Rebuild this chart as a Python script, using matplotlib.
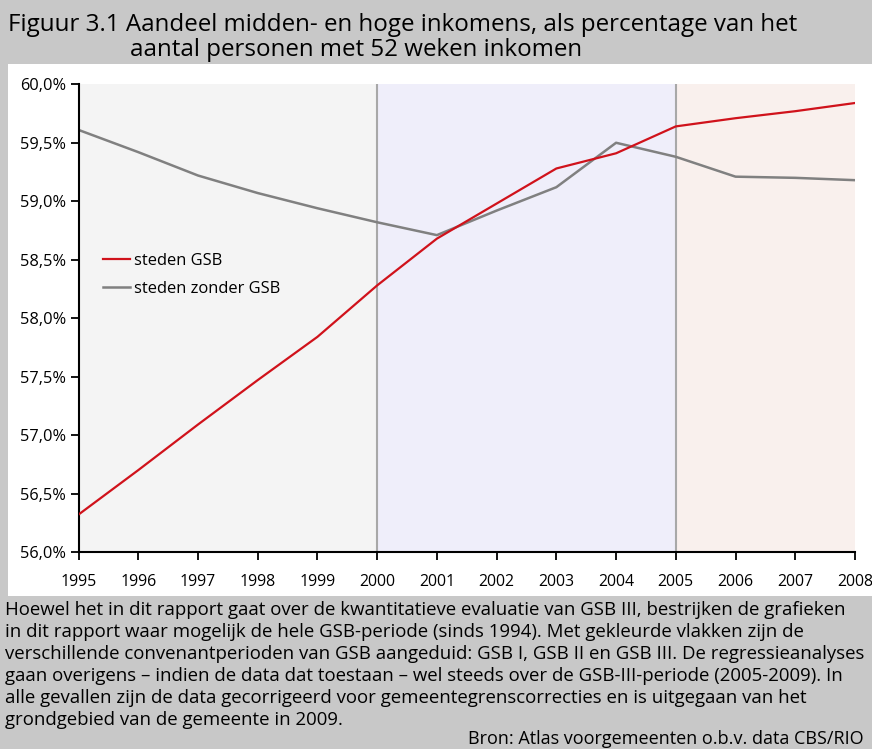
import matplotlib
matplotlib.use("Agg")
from matplotlib import pyplot as plt
from matplotlib.patches import Rectangle

plt.rcParams['font.family'] = ['Open Sans', 'DejaVu Sans']

years = [1995, 1996, 1997, 1998, 1999, 2000, 2001, 2002, 2003, 2004, 2005, 2006, 2007, 2008]
steden_gsb = [56.32, 56.70, 57.09, 57.47, 57.84, 58.28, 58.68, 58.98, 59.28, 59.41, 59.64, 59.71, 59.77, 59.84]
steden_zonder_gsb = [59.61, 59.42, 59.22, 59.07, 58.94, 58.82, 58.71, 58.92, 59.12, 59.50, 59.38, 59.21, 59.20, 59.18]
periods = [(1995, 2000), (2000, 2005), (2005, 2008)]
period_colors = ['#f4f4f4', '#efeefa', '#f9f0ed']
y_ticks = [56.0, 56.5, 57.0, 57.5, 58.0, 58.5, 59.0, 59.5, 60.0]

title_lines = ["Figuur 3.1 Aandeel midden- en hoge inkomens, als percentage van het",
               "aantal personen met 52 weken inkomen"]
note_lines = ["Hoewel het in dit rapport gaat over de kwantitatieve evaluatie van GSB III, bestrijken de grafieken",
              "in dit rapport waar mogelijk de hele GSB-periode (sinds 1994). Met gekleurde vlakken zijn de",
              "verschillende convenantperioden van GSB aangeduid: GSB I, GSB II en GSB III. De regressieanalyses",
              "gaan overigens \u2013 indien de data dat toestaan \u2013 wel steeds over de GSB-III-periode (2005-2009). In",
              "alle gevallen zijn de data gecorrigeerd voor gemeentegrenscorrecties en is uitgegaan van het",
              "grondgebied van de gemeente in 2009."]
source = "Bron: Atlas voorgemeenten o.b.v. data CBS/RIO"

W, H = 872, 749
fig = plt.figure(figsize=(W / 100, H / 100), dpi=100, facecolor='#c8c8c8')

# white panel behind the chart
fig.patches.append(Rectangle((8 / W, (H - 596) / H), 1, (596 - 64) / H,
                             transform=fig.transFigure, facecolor='white', edgecolor='none', zorder=-1))

ax = fig.add_axes([78.5 / W, (H - 552) / H, (855 - 78.5) / W, (552 - 84.3) / H])
ax.set_zorder(1)
ax.set_facecolor('white')

for (a, b), c in zip(periods, period_colors):
    ax.axvspan(a, b, color=c, lw=0, zorder=0)
for a, b in periods[1:]:
    ax.axvline(a, color='#a8a8a8', lw=1.5, zorder=1)

ax.plot(years, steden_gsb, color='#d0121b', lw=1.6, label='steden GSB', zorder=3)
ax.plot(years, steden_zonder_gsb, color='#808080', lw=1.8, label='steden zonder GSB', zorder=2)

ax.set_xlim(1995, 2008)
ax.set_ylim(56, 60)
ax.set_xticks(years)
ax.set_xticklabels([str(y) for y in years], fontsize=11.4)
ax.set_yticks(y_ticks)
ax.set_yticklabels([f"{v:.1f}%".replace('.', ',') for v in y_ticks], fontsize=11.8)
ax.tick_params(axis='both', direction='out', length=6, width=1.3, color='black')
ax.tick_params(axis='x', pad=10)
ax.tick_params(axis='y', pad=3)

for s in ['top', 'right']:
    ax.spines[s].set_visible(False)
for s in ['left', 'bottom']:
    ax.spines[s].set_linewidth(1.5)
    ax.spines[s].set_color('black')

ax.legend(loc='upper left', bbox_to_anchor=(0.0316, 0.64), frameon=False, fontsize=11.9,
          handlelength=1.65, handletextpad=0.25, labelspacing=0.72, borderaxespad=0,
          borderpad=0)

fig.text(8 / W, 1 - 31 / H, title_lines[0], fontsize=17.4, va='baseline', ha='left')
fig.text(130 / W, 1 - 56 / H, title_lines[1], fontsize=17.4, va='baseline', ha='left')
for i, line in enumerate(note_lines):
    fig.text(5 / W, 1 - (615 + 22 * i) / H, line, fontsize=13.4, va='baseline', ha='left')
fig.text(468 / W, 1 - 744 / H, source, fontsize=13.0, va='baseline', ha='left')

fig.savefig('out.png', dpi=100, facecolor=fig.get_facecolor())
